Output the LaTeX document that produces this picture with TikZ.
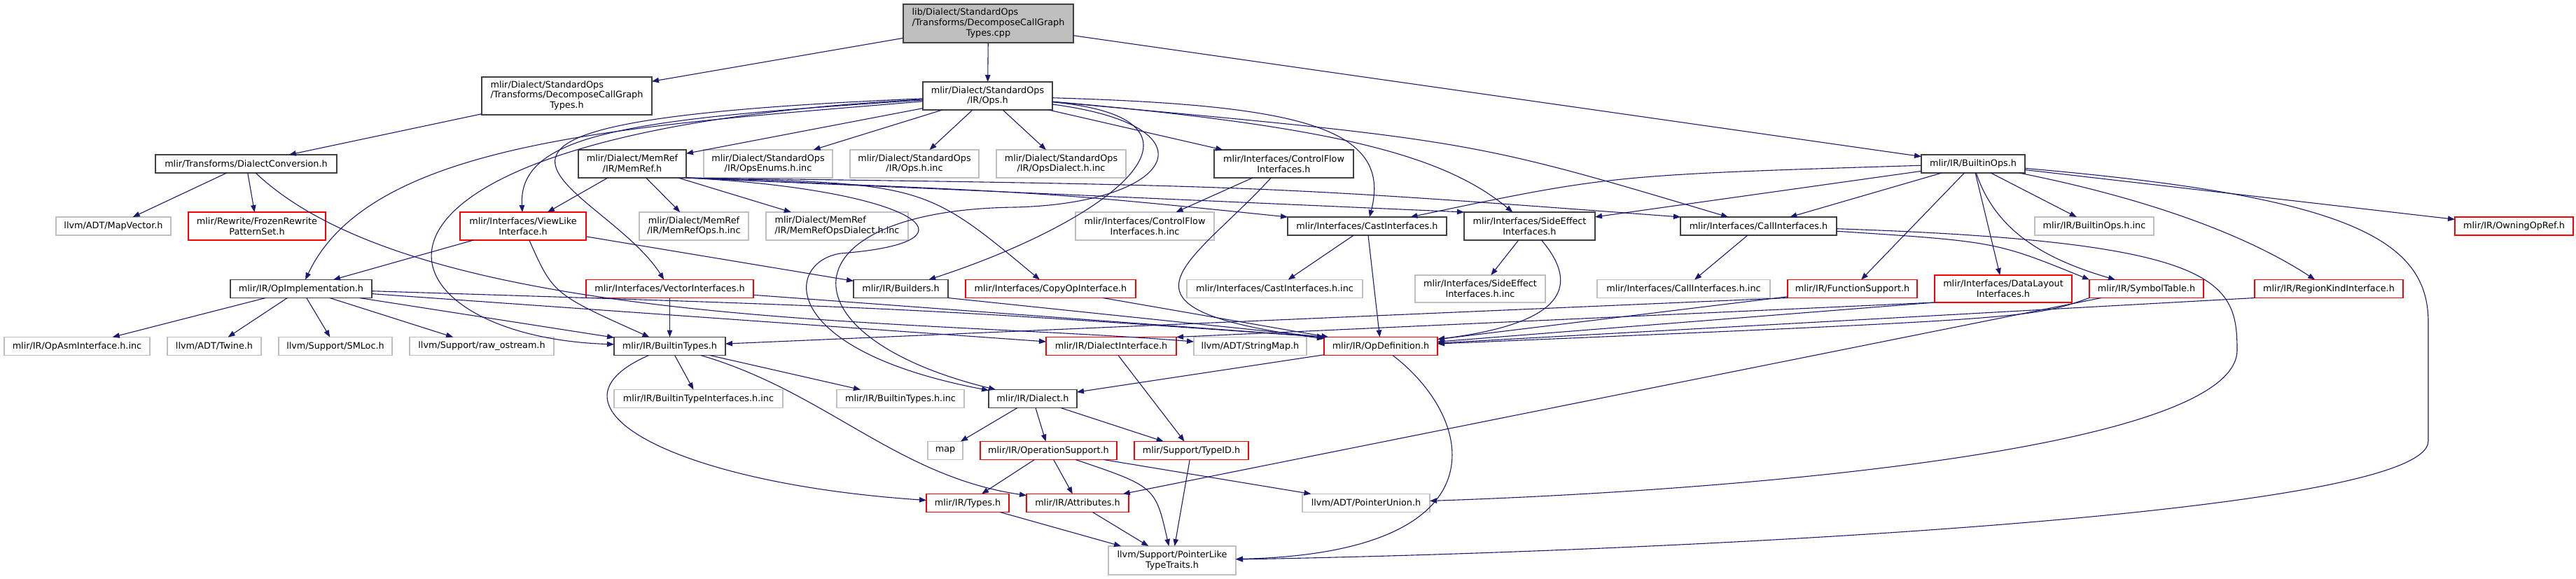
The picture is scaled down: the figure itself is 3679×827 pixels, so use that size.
\documentclass[tikz,border=0pt]{standalone}
\usepackage{fontspec}
\setmainfont{DejaVu Sans}
\usetikzlibrary{arrows.meta, positioning}

\definecolor{linkblue}{HTML}{191970}
\definecolor{extgray}{HTML}{BFBFBF}
\definecolor{docgray}{HTML}{404040}

\begin{document}
\begin{tikzpicture}[
        x=1pt, y=-1pt,
        node distance=25pt,
        hdr/.style={rectangle, draw=docgray, line width=1.2pt, outer sep=0pt, inner sep=0pt, minimum height=26pt, align=center, font=\fontsize{12.8}{14.7}\selectfont},
        ext/.style={hdr, draw=extgray},
        trunc/.style={hdr, draw=red},
        tall/.style={minimum height=40pt},
        main/.style={hdr, fill=extgray, minimum height=55pt},
        arrow/.style={-{Triangle[length=10pt, width=7.5pt]}, draw=linkblue, line width=1.1pt}
    ]
    \useasboundingbox (0,0) rectangle (3679,827);

    % Nodes
    \node (root) [main, minimum width=243pt] at (1411.5,33.5) {\begin{tabular}{@{}l@{}}lib/Dialect/StandardOps\\/Transforms/DecomposeCallGraph\\\multicolumn{1}{@{}c@{}}{Types.cpp}\end{tabular}};

    \node (dcgth) [hdr, minimum width=243pt, minimum height=54pt] at (809.5,137) {\begin{tabular}{@{}l@{}}mlir/Dialect/StandardOps\\/Transforms/DecomposeCallGraph\\\multicolumn{1}{@{}c@{}}{Types.h}\end{tabular}};
    \node (opsh) [hdr, tall, minimum width=185pt] at (1410.5,137) {mlir/Dialect/StandardOps\\/IR/Ops.h};

    \node (dconv) [hdr, minimum width=259pt] at (351.5,234) {mlir/Transforms/DialectConversion.h};
    \node (memref) [hdr, tall, minimum width=154pt] at (903,234) {mlir/Dialect/MemRef\\/IR/MemRef.h};
    \node (opsenums) [ext, tall, minimum width=184pt, right=of memref] {mlir/Dialect/StandardOps\\/IR/OpsEnums.h.inc};
    \node (opsinc) [ext, tall, minimum width=184pt, right=of opsenums] {mlir/Dialect/StandardOps\\/IR/Ops.h.inc};
    \node (opsdialect) [ext, tall, minimum width=185pt, right=of opsinc] {mlir/Dialect/StandardOps\\/IR/OpsDialect.h.inc};
    \node (cflow) [hdr, tall, minimum width=199pt] at (1833.5,234) {mlir/Interfaces/ControlFlow\\Interfaces.h};
    \node (builtinops) [hdr, minimum width=148pt] at (2818,234) {mlir/IR/BuiltinOps.h};

    \node (mapvector) [ext, minimum width=164pt] at (162,323) {llvm/ADT/MapVector.h};
    \node (frozen) [trunc, tall, minimum width=196pt, right=of mapvector] {mlir/Rewrite/FrozenRewrite\\PatternSet.h};
    \node (viewlike) [trunc, tall, minimum width=180pt] at (747,323) {mlir/Interfaces/ViewLike\\Interface.h};
    \node (memrefops) [ext, tall, minimum width=156pt] at (991,323) {mlir/Dialect/MemRef\\/IR/MemRefOps.h.inc};
    \node (memrefdialect) [ext, tall, minimum width=203pt, right=of memrefops] {\begin{tabular}{@{}l@{}}mlir/Dialect/MemRef\\/IR/MemRefOpsDialect.h.inc\end{tabular}};
    \node (cflowinc) [ext, tall, minimum width=198pt] at (1635,323) {mlir/Interfaces/ControlFlow\\Interfaces.h.inc};
    \node (castif) [hdr, minimum width=227pt] at (1952.5,323) {mlir/Interfaces/CastInterfaces.h};
    \node (sideeffect) [hdr, tall, minimum width=187pt, right=of castif] {mlir/Interfaces/SideEffect\\Interfaces.h};
    \node (callif) [hdr, minimum width=223pt] at (2511.5,323) {mlir/Interfaces/CallInterfaces.h};
    \node (builtinopsinc) [ext, minimum width=170pt] at (2991,323) {mlir/IR/BuiltinOps.h.inc};
    \node (owningop) [trunc, minimum width=169pt] at (3590.5,323) {mlir/IR/OwningOpRef.h};

    \node (opimpl) [hdr, minimum width=202pt] at (430,412.5) {mlir/IR/OpImplementation.h};
    \node (vectorif) [trunc, minimum width=239pt] at (956.5,412.5) {mlir/Interfaces/VectorInterfaces.h};
    \node (builders) [hdr, minimum width=135pt] at (1286.5,412.5) {mlir/IR/Builders.h};
    \node (copyop) [trunc, minimum width=243pt, right=of builders] {mlir/Interfaces/CopyOpInterface.h};
    \node (castinc) [ext, minimum width=251pt] at (1820.5,412.5) {mlir/Interfaces/CastInterfaces.h.inc};
    \node (sideeffectinc) [ext, minimum height=39pt, minimum width=186pt] at (2114,412.5) {mlir/Interfaces/SideEffect\\Interfaces.h.inc};
    \node (callinc) [ext, minimum width=247pt] at (2404.5,412.5) {mlir/Interfaces/CallInterfaces.h.inc};
    \node (funcsupport) [trunc, minimum width=185pt, right=of callinc] {mlir/IR/FunctionSupport.h};
    \node (datalayout) [trunc, minimum height=39pt, minimum width=196pt, right=of funcsupport] {mlir/Interfaces/DataLayout\\Interfaces.h};
    \node (symtab) [trunc, minimum width=163pt, right=of datalayout] {mlir/IR/SymbolTable.h};
    \node (regionkind) [trunc, minimum width=212pt] at (3326,412.5) {mlir/IR/RegionKindInterface.h};

    \node (opasm) [ext, minimum width=208pt] at (110,494.5) {mlir/IR/OpAsmInterface.h.inc};
    \node (twine) [ext, minimum width=134pt, right=of opasm] {llvm/ADT/Twine.h};
    \node (smloc) [ext, minimum width=162pt, right=of twine] {llvm/Support/SMLoc.h};
    \node (rawostream) [ext, minimum width=206pt, right=of smloc] {llvm/Support/raw\_ostream.h};
    \node (builtintypes) [hdr, minimum width=159pt] at (956.5,494.5) {mlir/IR/BuiltinTypes.h};
    \node (dialectif) [trunc, minimum width=186pt] at (1587,494.5) {mlir/IR/DialectInterface.h};
    \node (stringmap) [ext, minimum width=161pt, right=of dialectif] {llvm/ADT/StringMap.h};
    \node (opdef) [trunc, minimum width=162pt, right=of stringmap] {mlir/IR/OpDefinition.h};

    \node (btypeif) [ext, minimum width=241pt] at (997.5,569.5) {mlir/IR/BuiltinTypeInterfaces.h.inc};
    \node (btypesinc) [ext, minimum width=182pt] at (1286,569.5) {mlir/IR/BuiltinTypes.h.inc};
    \node (dialect) [hdr, minimum width=126pt] at (1475,569.5) {mlir/IR/Dialect.h};

    \node (stdmap) [ext, minimum width=50pt] at (1350,643.5) {map};
    \node (opsupport) [trunc, minimum width=195pt, right=of stdmap] {mlir/IR/OperationSupport.h};
    \node (typeid) [trunc, minimum width=163pt, right=of opsupport] {mlir/Support/TypeID.h};

    \node (types) [trunc, minimum width=118pt] at (1382,718.5) {mlir/IR/Types.h};
    \node (attrs) [trunc, minimum width=146pt, right=of types] {mlir/IR/Attributes.h};
    \node (ptrunion) [ext, minimum width=182pt] at (1951,718.5) {llvm/ADT/PointerUnion.h};

    \node (ptrlike) [ext, minimum height=41pt, minimum width=182pt] at (1674,800.5) {llvm/Support/PointerLike\\TypeTraits.h};

    % Connections
    \draw [arrow] (root) -- (dcgth);
    \draw [arrow] (root) -- (opsh);
    \draw [arrow] (root) -- (builtinops);

    \draw [arrow] (dcgth) -- (dconv);
    \draw [arrow] (dconv) -- (mapvector);
    \draw [arrow] (dconv) -- (frozen);
    \draw [arrow] (dconv) .. controls (600,470) and (1300,455) .. (stringmap);

    \draw [arrow] (opsh) .. controls (900,180) and (530,200) .. (opimpl);
    \draw [arrow] (opsh) .. controls (900,170) and (740,190) .. (viewlike);
    \draw [arrow] (opsh) .. controls (420,190) and (520,480) .. (builtintypes);
    \draw [arrow] (opsh) .. controls (500,175) and (860,260) .. (vectorif);
    \draw [arrow] (opsh) -- (memref);
    \draw [arrow] (opsh) -- (opsenums);
    \draw [arrow] (opsh) -- (opsinc);
    \draw [arrow] (opsh) -- (opsdialect);
    \draw [arrow] (opsh) -- (cflow);
    \draw [arrow] (opsh) .. controls (1850,150) and (1990,180) .. (castif);
    \draw [arrow] (opsh) .. controls (1900,180) and (2060,220) .. (sideeffect);
    \draw [arrow] (opsh) .. controls (2100,200) .. (callif);
    \draw [arrow] (opsh) .. controls (1760,170) and (1600,310) .. (builders);
    \draw [arrow] (opsh) .. controls (1740,180) and (1680,290) .. (1450,296) .. controls (1120,300) and (1110,480) .. (dialect);

    \draw [arrow] (memref) -- (memrefops);
    \draw [arrow] (memref) -- (memrefdialect);
    \draw [arrow] (memref) -- (viewlike);
    \draw [arrow] (memref.south east) .. controls (1320,262) .. (copyop);
    \draw [arrow] (memref.south east) .. controls (1500,275) .. (castif.north west);
    \draw [arrow] (memref.south east) -- (sideeffect.north west);
    \draw [arrow] (memref.south east) .. controls (1800,265) .. (callif.north west);
    \draw [arrow] (memref.south east) .. controls (1300,270) and (1420,345) .. (1200,362) .. controls (1120,375) and (1110,500) .. (dialect);

    \draw [arrow] (cflow) -- (cflowinc);
    \draw [arrow] (cflow) .. controls (1700,380) and (1560,440) .. (opdef);

    \draw [arrow] (builtinops) .. controls (2300,250) .. (castif);
    \draw [arrow] (builtinops) -- (sideeffect);
    \draw [arrow] (builtinops) -- (callif);
    \draw [arrow] (builtinops) -- (funcsupport);
    \draw [arrow] (builtinops) -- (builtinopsinc);
    \draw [arrow] (builtinops) -- (owningop);
    \draw [arrow] (builtinops) -- (datalayout);
    \draw [arrow] (builtinops) .. controls (2850,330) and (2920,370) .. (symtab);
    \draw [arrow] (builtinops) .. controls (3050,280) and (3200,330) .. (regionkind);
    \draw [arrow] (builtinops) .. controls (3350,280) and (3468,340) .. (3468,460) -- (3468,630) .. controls (3468,740) and (2300,790) .. (ptrlike);

    \draw [arrow] (viewlike) -- (opimpl);
    \draw [arrow] (viewlike) .. controls (790,420) .. (builtintypes);
    \draw [arrow] (viewlike) -- (builders);

    \draw [arrow] (vectorif) -- (builtintypes);
    \draw [arrow] (vectorif) -- (opdef.north west);

    \draw [arrow] (castif) -- (castinc);
    \draw [arrow] (castif) -- (opdef);
    \draw [arrow] (sideeffect) -- (sideeffectinc);
    \draw [arrow] (sideeffect) .. controls (2250,400) and (2250,460) .. (opdef);
    \draw [arrow] (callif) -- (callinc);
    \draw [arrow] (callif) .. controls (2850,345) .. (symtab.north west);
    \draw [arrow] (callif) .. controls (3170,345) and (3195,400) .. (3195,500) .. controls (3195,640) and (2500,700) .. (ptrunion);

    \draw [arrow] (funcsupport) -- (opdef);
    \draw [arrow] (funcsupport.south west) -- (builtintypes);
    \draw [arrow] (datalayout.south west) -- (dialectif.north east);
    \draw [arrow] (datalayout.south west) -- (opdef);
    \draw [arrow] (symtab.south west) .. controls (2900,455) .. (opdef);
    \draw [arrow] (symtab) -- (attrs);
    \draw [arrow] (regionkind.south west) -- (opdef);

    \draw [arrow] (opimpl) -- (opasm);
    \draw [arrow] (opimpl) -- (twine);
    \draw [arrow] (opimpl) -- (smloc);
    \draw [arrow] (opimpl) -- (rawostream);
    \draw [arrow] (opimpl) -- (builtintypes);
    \draw [arrow] (opimpl) -- (dialectif);
    \draw [arrow] (opimpl) .. controls (1300,440) .. (opdef.north west);

    \draw [arrow] (builders.south east) -- (opdef.north west);
    \draw [arrow] (copyop) -- (opdef);

    \draw [arrow] (builtintypes) -- (btypeif);
    \draw [arrow] (builtintypes) -- (btypesinc);
    \draw [arrow] (builtintypes) .. controls (760,580) and (960,690) .. (types);
    \draw [arrow] (builtintypes) .. controls (1180,560) and (1280,680) .. (attrs);

    \draw [arrow] (dialectif) -- (typeid);
    \draw [arrow] (opdef) -- (dialect);
    \draw [arrow] (opdef) .. controls (2110,600) and (2150,790) .. (ptrlike);

    \draw [arrow] (dialect) -- (stdmap);
    \draw [arrow] (dialect) -- (opsupport);
    \draw [arrow] (dialect) -- (typeid);
    \draw [arrow] (opsupport) -- (types);
    \draw [arrow] (opsupport) -- (attrs);
    \draw [arrow] (opsupport) .. controls (1650,695) .. (ptrlike);
    \draw [arrow] (opsupport) -- (ptrunion);
    \draw [arrow] (typeid) -- (ptrlike);
    \draw [arrow] (types) -- (ptrlike);
    \draw [arrow] (attrs) -- (ptrlike);

\end{tikzpicture}
\end{document}
